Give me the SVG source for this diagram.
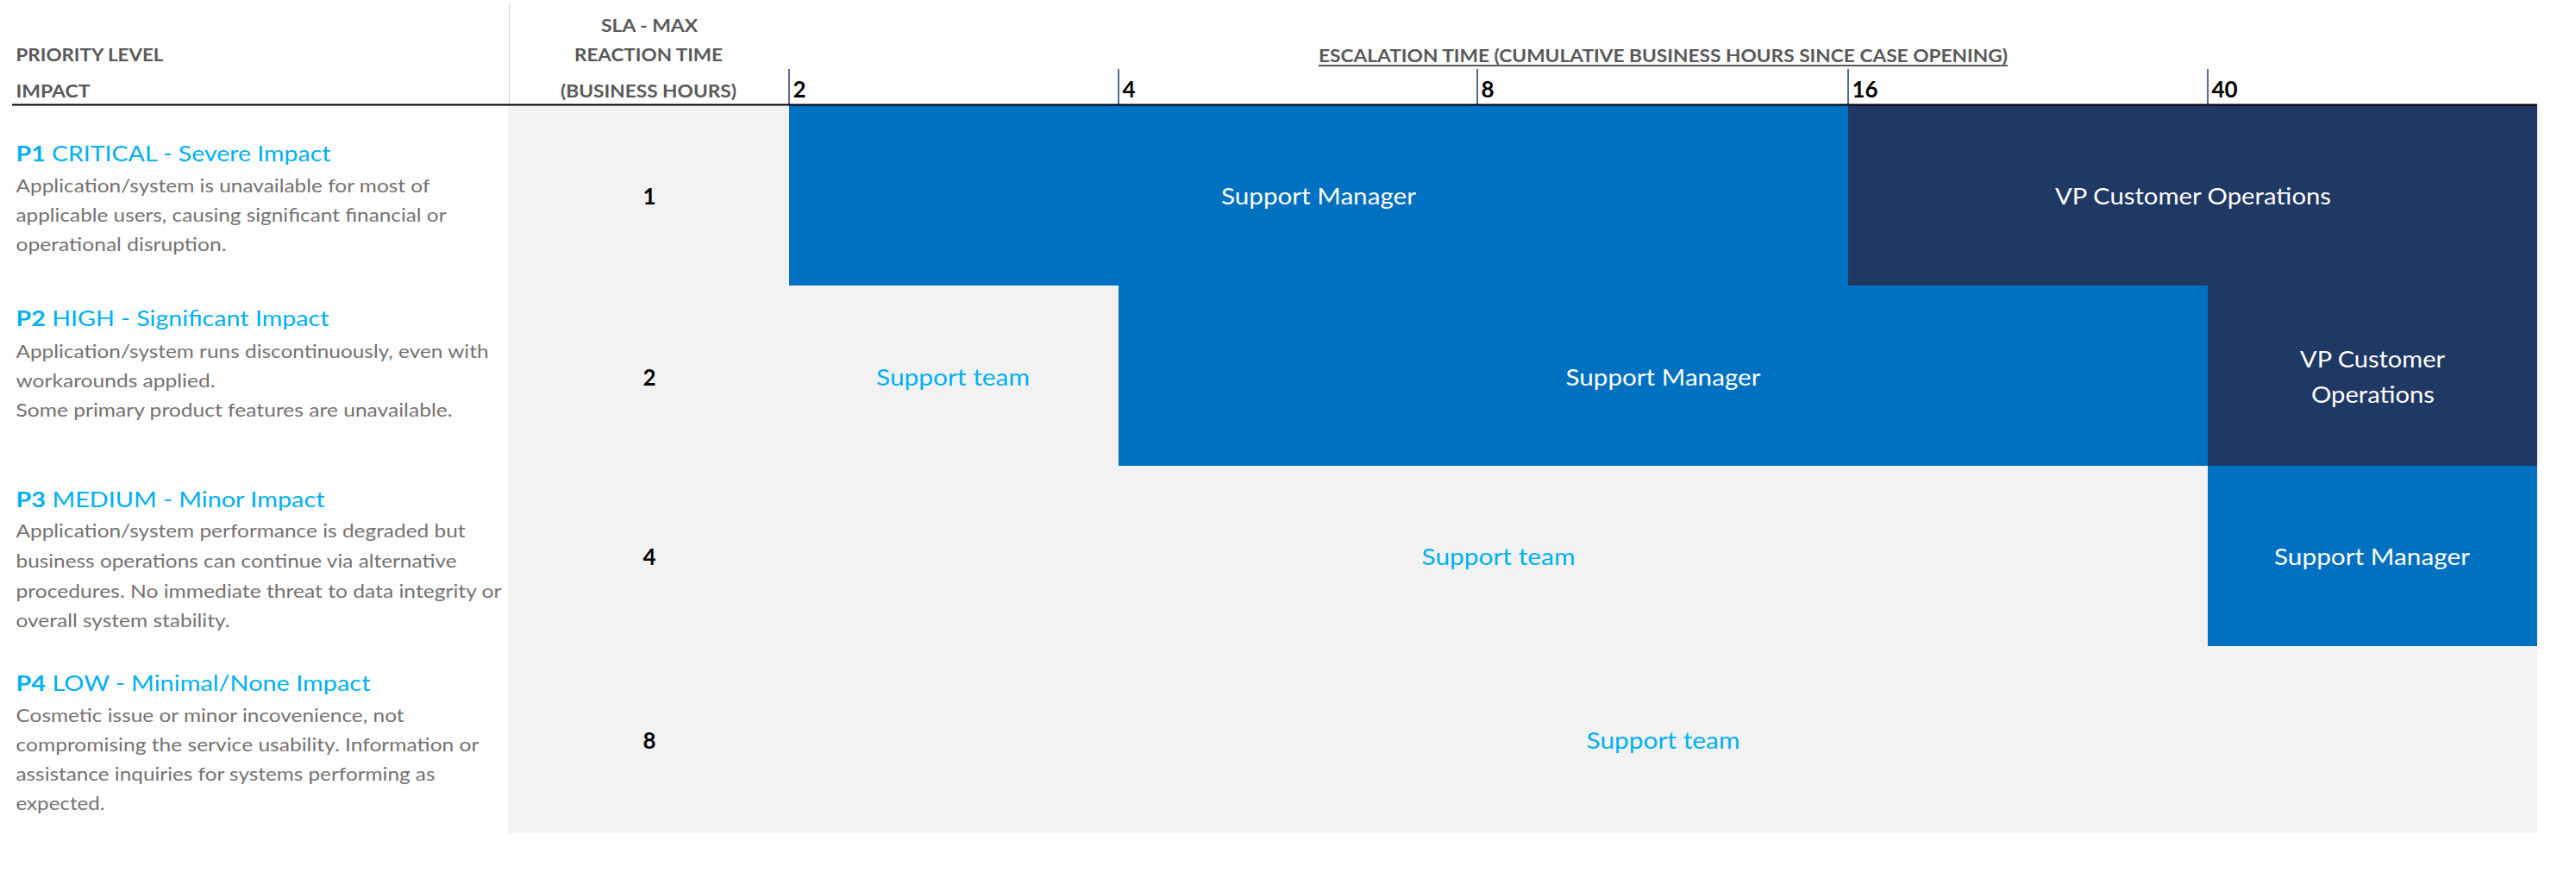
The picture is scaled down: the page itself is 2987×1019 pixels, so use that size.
<svg xmlns="http://www.w3.org/2000/svg" width="2987" height="1019" viewBox="0 0 2987 1019">
<style>
text { font-family: Lato, "Liberation Sans", sans-serif; }
.hdr { font-weight: bold; font-size: 21px; fill: #595959; }
.num { font-weight: bold; font-size: 26px; fill: #000000; }
.title { font-size: 25.5px; fill: #00B0F0; }
.title tspan.b { font-weight: bold; }
.desc { font-size: 21.5px; fill: #767171; }
.cell { font-size: 26.5px; }
.w { fill: #FFFFFF; }
.lb { fill: #00B0F0; }
.gray { fill: #F2F2F2; }
.blue { fill: #0070C0; }
.navy { fill: #203864; }
.tick { stroke: #1F3864; stroke-width: 1.5; }
</style>
<rect x="0" y="0" width="2987" height="1019" fill="#FFFFFF"/>

<g id="header">
  <text class="hdr" x="18.5" y="70.7" textLength="171" lengthAdjust="spacingAndGlyphs">PRIORITY LEVEL</text>
  <text class="hdr" x="18.5" y="113" textLength="86" lengthAdjust="spacingAndGlyphs">IMPACT</text>
  <text class="hdr" x="697" y="36.7" textLength="112" lengthAdjust="spacingAndGlyphs">SLA - MAX</text>
  <text class="hdr" x="666" y="70.7" textLength="172" lengthAdjust="spacingAndGlyphs">REACTION TIME</text>
  <text class="hdr" x="650" y="113" textLength="204" lengthAdjust="spacingAndGlyphs">(BUSINESS HOURS)</text>
  <text class="hdr" x="1529" y="71.7" textLength="799" lengthAdjust="spacingAndGlyphs">ESCALATION TIME (CUMULATIVE BUSINESS HOURS SINCE CASE OPENING)</text>
  <rect x="1529" y="75" width="799" height="2" fill="#595959"/>
  <text class="num" x="919.5" y="112.7">2</text>
  <text class="num" x="1301.5" y="112.7">4</text>
  <text class="num" x="1717.5" y="112.7">8</text>
  <text class="num" x="2147.5" y="112.7">16</text>
  <text class="num" x="2564.5" y="112.7">40</text>
</g>

<g id="background">
  <rect class="gray" x="589" y="122" width="2353" height="844"/>
</g>

<g id="row-p1">
  <text class="title" x="18.5" y="187" textLength="365" lengthAdjust="spacingAndGlyphs"><tspan class="b">P1</tspan> CRITICAL - Severe Impact</text>
  <text class="desc" x="18.5" y="223" textLength="480" lengthAdjust="spacingAndGlyphs">Application/system is unavailable for most of</text>
  <text class="desc" x="18.5" y="257" textLength="499" lengthAdjust="spacingAndGlyphs">applicable users, causing significant financial or</text>
  <text class="desc" x="18.5" y="291" textLength="244" lengthAdjust="spacingAndGlyphs">operational disruption.</text>
  <text class="num" x="753" y="237" text-anchor="middle">1</text>
  <rect class="blue" x="915" y="122" width="1228" height="209"/>
  <rect class="navy" x="2143" y="122" width="799" height="209"/>
  <text class="cell w" x="1416" y="237" textLength="226" lengthAdjust="spacingAndGlyphs">Support Manager</text>
  <text class="cell w" x="2383" y="237" textLength="320" lengthAdjust="spacingAndGlyphs">VP Customer Operations</text>
</g>

<g id="row-p2">
  <text class="title" x="18.5" y="378" textLength="363" lengthAdjust="spacingAndGlyphs"><tspan class="b">P2</tspan> HIGH - Significant Impact</text>
  <text class="desc" x="18.5" y="415" textLength="548" lengthAdjust="spacingAndGlyphs">Application/system runs discontinuously, even with</text>
  <text class="desc" x="18.5" y="449" textLength="231" lengthAdjust="spacingAndGlyphs">workarounds applied.</text>
  <text class="desc" x="18.5" y="483" textLength="506" lengthAdjust="spacingAndGlyphs">Some primary product features are unavailable.</text>
  <text class="num" x="753" y="446.7" text-anchor="middle">2</text>
  <text class="cell lb" x="1016" y="446.7" textLength="178" lengthAdjust="spacingAndGlyphs">Support team</text>
  <rect class="blue" x="1297" y="331" width="1263" height="209"/>
  <rect class="navy" x="2560" y="331" width="382" height="209"/>
  <text class="cell w" x="1815.5" y="446.7" textLength="226" lengthAdjust="spacingAndGlyphs">Support Manager</text>
  <text class="cell w" x="2667" y="426" textLength="168" lengthAdjust="spacingAndGlyphs">VP Customer</text>
  <text class="cell w" x="2680" y="467" textLength="143" lengthAdjust="spacingAndGlyphs">Operations</text>
</g>

<g id="row-p3">
  <text class="title" x="18.5" y="588" textLength="358" lengthAdjust="spacingAndGlyphs"><tspan class="b">P3</tspan> MEDIUM - Minor Impact</text>
  <text class="desc" x="18.5" y="623" textLength="521" lengthAdjust="spacingAndGlyphs">Application/system performance is degraded but</text>
  <text class="desc" x="18.5" y="658" textLength="511" lengthAdjust="spacingAndGlyphs">business operations can continue via alternative</text>
  <text class="desc" x="18.5" y="693" textLength="563" lengthAdjust="spacingAndGlyphs">procedures. No immediate threat to data integrity or</text>
  <text class="desc" x="18.5" y="727" textLength="248" lengthAdjust="spacingAndGlyphs">overall system stability.</text>
  <text class="num" x="753" y="655" text-anchor="middle">4</text>
  <text class="cell lb" x="1648.5" y="655" textLength="178" lengthAdjust="spacingAndGlyphs">Support team</text>
  <rect class="blue" x="2560" y="540" width="382" height="209"/>
  <text class="cell w" x="2637" y="655" textLength="227" lengthAdjust="spacingAndGlyphs">Support Manager</text>
</g>

<g id="row-p4">
  <text class="title" x="18.5" y="801" textLength="411" lengthAdjust="spacingAndGlyphs"><tspan class="b">P4</tspan> LOW - Minimal/None Impact</text>
  <text class="desc" x="18.5" y="837" textLength="450" lengthAdjust="spacingAndGlyphs">Cosmetic issue or minor incovenience, not</text>
  <text class="desc" x="18.5" y="871" textLength="537" lengthAdjust="spacingAndGlyphs">compromising the service usability. Information or</text>
  <text class="desc" x="18.5" y="905" textLength="486" lengthAdjust="spacingAndGlyphs">assistance inquiries for systems performing as</text>
  <text class="desc" x="18.5" y="939" textLength="103" lengthAdjust="spacingAndGlyphs">expected.</text>
  <text class="num" x="753" y="868" text-anchor="middle">8</text>
  <text class="cell lb" x="1839.5" y="868" textLength="178" lengthAdjust="spacingAndGlyphs">Support team</text>
</g>

<g id="connectors">
  <line x1="590.5" y1="4" x2="590.5" y2="122" stroke="#D0D0D0" stroke-width="1"/>
  <line class="tick" x1="915" y1="80" x2="915" y2="122"/>
  <line class="tick" x1="1297" y1="80" x2="1297" y2="122"/>
  <line class="tick" x1="1713" y1="80" x2="1713" y2="122"/>
  <line class="tick" x1="2143" y1="80" x2="2143" y2="122"/>
  <line class="tick" x1="2560" y1="80" x2="2560" y2="122"/>
  <line x1="14" y1="121.5" x2="2942" y2="121.5" stroke="#000000" stroke-width="2"/>
</g>
</svg>
